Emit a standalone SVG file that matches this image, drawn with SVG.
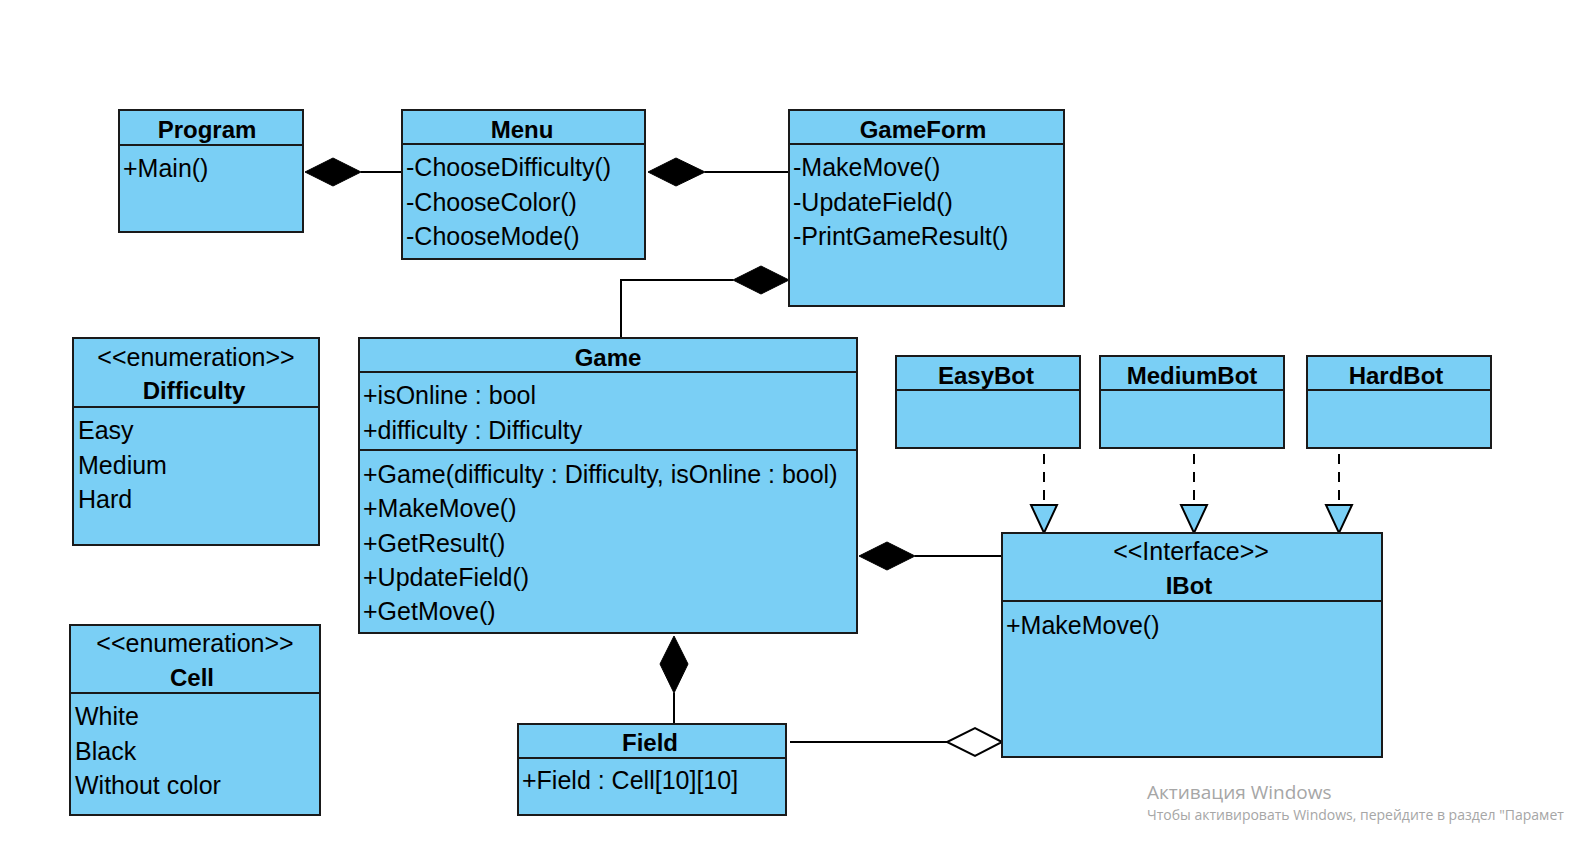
<svg xmlns="http://www.w3.org/2000/svg" width="1570" height="842" viewBox="0 0 1570 842">
<style>
.box{fill:#7acff5;stroke:#1a1a1a;stroke-width:2}
.div{stroke:#1a1a1a;stroke-width:2;fill:none}
.t{font-family:"Liberation Sans",Arial,sans-serif;font-size:25px;fill:#000}
.h{font-family:"Liberation Sans",Arial,sans-serif;font-size:24px;font-weight:bold;fill:#000;text-anchor:middle}
.c{text-anchor:middle}
.ln{stroke:#000;stroke-width:2;fill:none}
.dash{stroke:#000;stroke-width:2;fill:none;stroke-dasharray:10,8}
.fd{fill:#000;stroke:#000;stroke-width:1}
.hd{fill:#fff;stroke:#000;stroke-width:2}
.tri{fill:#7acff5;stroke:#000;stroke-width:2}
.wm{font-family:"Open Sans","Noto Sans",sans-serif;fill:#a6a6a6}
</style>
<rect width="1570" height="842" fill="#fff"/>
<g id="connectors">
  <line class="ln" x1="361" y1="172" x2="402" y2="172"/>
  <polygon class="fd" points="305,172 333,158 361,172 333,186"/>
  <line class="ln" x1="705" y1="172" x2="789" y2="172"/>
  <polygon class="fd" points="648,172 676,158 705,172 676,186"/>
  <polyline class="ln" points="733,280 621,280 621,338"/>
  <polygon class="fd" points="789,280 761,266 733,280 761,294"/>
  <line class="ln" x1="915" y1="556" x2="1002" y2="556"/>
  <polygon class="fd" points="859,556 887,542 915,556 887,570"/>
  <line class="ln" x1="674" y1="693" x2="674" y2="724"/>
  <polygon class="fd" points="674,636 688,664 674,693 660,664"/>
  <line class="ln" x1="790" y1="742" x2="947" y2="742"/>
  <polygon class="hd" points="1002,742 975,728 947,742 975,756"/>
  <line class="dash" x1="1044" y1="454" x2="1044" y2="505"/>
  <polygon class="tri" points="1031,505 1057,505 1044,533"/>
  <line class="dash" x1="1194" y1="454" x2="1194" y2="505"/>
  <polygon class="tri" points="1181,505 1207,505 1194,533"/>
  <line class="dash" x1="1339" y1="454" x2="1339" y2="505"/>
  <polygon class="tri" points="1326,505 1352,505 1339,533"/>
</g>
<g id="Program">
  <rect class="box" x="119" y="110" width="184" height="122"/>
  <line class="div" x1="119" y1="145" x2="303" y2="145"/>
  <text class="h" x="207" y="138">Program</text>
  <text class="t" x="123" y="177">+Main()</text>
</g>
<g id="Menu">
  <rect class="box" x="402" y="110" width="243" height="149"/>
  <line class="div" x1="402" y1="144" x2="645" y2="144"/>
  <text class="h" x="522" y="138">Menu</text>
  <text class="t" x="406" y="176">-ChooseDifficulty()</text>
  <text class="t" x="406" y="211">-ChooseColor()</text>
  <text class="t" x="406" y="245">-ChooseMode()</text>
</g>
<g id="GameForm">
  <rect class="box" x="789" y="110" width="275" height="196"/>
  <line class="div" x1="789" y1="144" x2="1064" y2="144"/>
  <text class="h" x="923" y="138">GameForm</text>
  <text class="t" x="793" y="176">-MakeMove()</text>
  <text class="t" x="793" y="211">-UpdateField()</text>
  <text class="t" x="793" y="245">-PrintGameResult()</text>
</g>
<g id="Difficulty">
  <rect class="box" x="73" y="338" width="246" height="207"/>
  <line class="div" x1="73" y1="407" x2="319" y2="407"/>
  <text class="t c" x="196" y="366">&lt;&lt;enumeration&gt;&gt;</text>
  <text class="h" x="194" y="399">Difficulty</text>
  <text class="t" x="78" y="439">Easy</text>
  <text class="t" x="78" y="474">Medium</text>
  <text class="t" x="78" y="508">Hard</text>
</g>
<g id="Cell">
  <rect class="box" x="70" y="625" width="250" height="190"/>
  <line class="div" x1="70" y1="693" x2="320" y2="693"/>
  <text class="t c" x="195" y="652">&lt;&lt;enumeration&gt;&gt;</text>
  <text class="h" x="192" y="686">Cell</text>
  <text class="t" x="75" y="725">White</text>
  <text class="t" x="75" y="760">Black</text>
  <text class="t" x="75" y="794">Without color</text>
</g>
<g id="Game">
  <rect class="box" x="359" y="338" width="498" height="295"/>
  <line class="div" x1="359" y1="372" x2="857" y2="372"/>
  <line class="div" x1="359" y1="450" x2="857" y2="450"/>
  <text class="h" x="608" y="366">Game</text>
  <text class="t" x="363" y="404">+isOnline : bool</text>
  <text class="t" x="363" y="439">+difficulty : Difficulty</text>
  <text class="t" x="363" y="483">+Game(difficulty : Difficulty, isOnline : bool)</text>
  <text class="t" x="363" y="517">+MakeMove()</text>
  <text class="t" x="363" y="552">+GetResult()</text>
  <text class="t" x="363" y="586">+UpdateField()</text>
  <text class="t" x="363" y="620">+GetMove()</text>
</g>
<g id="EasyBot">
  <rect class="box" x="896" y="356" width="184" height="92"/>
  <line class="div" x1="896" y1="390" x2="1080" y2="390"/>
  <text class="h" x="986" y="384">EasyBot</text>
</g>
<g id="MediumBot">
  <rect class="box" x="1100" y="356" width="184" height="92"/>
  <line class="div" x1="1100" y1="390" x2="1284" y2="390"/>
  <text class="h" x="1192" y="384">MediumBot</text>
</g>
<g id="HardBot">
  <rect class="box" x="1307" y="356" width="184" height="92"/>
  <line class="div" x1="1307" y1="390" x2="1491" y2="390"/>
  <text class="h" x="1396" y="384">HardBot</text>
</g>
<g id="IBot">
  <rect class="box" x="1002" y="533" width="380" height="224"/>
  <line class="div" x1="1002" y1="601" x2="1382" y2="601"/>
  <text class="t c" x="1191" y="560">&lt;&lt;Interface&gt;&gt;</text>
  <text class="h" x="1189" y="594">IBot</text>
  <text class="t" x="1006" y="634">+MakeMove()</text>
</g>
<g id="Field">
  <rect class="box" x="518" y="724" width="268" height="91"/>
  <line class="div" x1="518" y1="758" x2="786" y2="758"/>
  <text class="h" x="650" y="751">Field</text>
  <text class="t" x="522" y="789">+Field : Cell[10][10]</text>
</g>
<g id="watermark">
  <text class="wm" x="1147" y="799" font-size="19">Активация Windows</text>
  <text class="wm" x="1147" y="820" font-size="14">Чтобы активировать Windows, перейдите в раздел "Парамет</text>
</g>
</svg>
